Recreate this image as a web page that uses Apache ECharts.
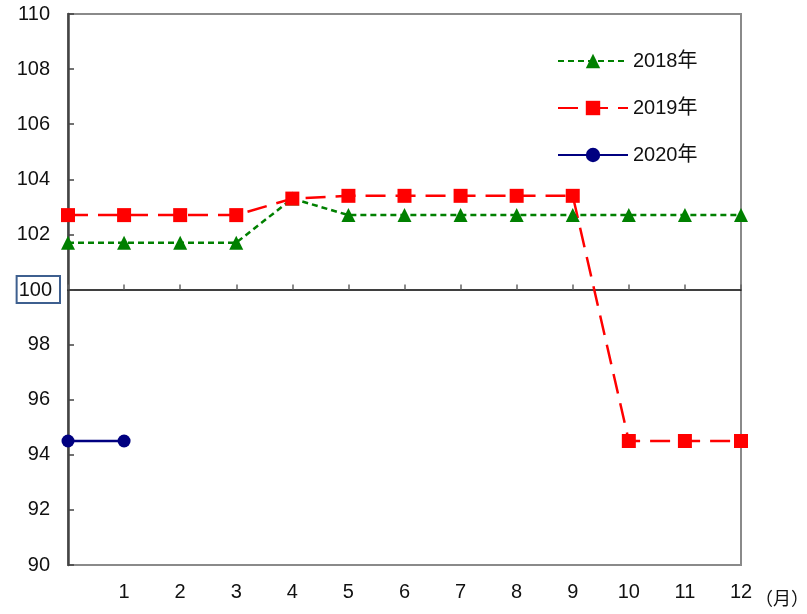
<!DOCTYPE html>
<html><head><meta charset="utf-8">
<script src="https://cdn.jsdelivr.net/npm/echarts@6/dist/echarts.min.js"></script>
<style>html,body{margin:0;padding:0;background:#fff}#c{width:807px;height:614px}</style>
</head><body><div id="c"></div>
<script>
const categories = ['', '1', '2', '3', '4', '5', '6', '7', '8', '9', '10', '11', '12'];
const s2018 = [101.7, 101.7, 101.7, 101.7, 103.3, 102.7, 102.7, 102.7, 102.7, 102.7, 102.7, 102.7, 102.7];
const s2019 = [102.7, 102.7, 102.7, 102.7, 103.3, 103.4, 103.4, 103.4, 103.4, 103.4, 94.5, 94.5, 94.5];
const s2020 = [94.5, 94.5];
const seriesNames = ['2018年', '2019年', '2020年'];
const yMin = 90, yMax = 110, yStep = 2, baseLine = 100;

const FONT = 'Liberation Sans, Noto Sans CJK JP, sans-serif';
const chart = echarts.init(document.getElementById('c'));
chart.setOption({
  animation: false,
  textStyle: { fontFamily: FONT },
  grid: [
    { left: 68, right: 66, top: 14, bottom: 49, show: true, borderColor: '#8a8a8a', borderWidth: 2, containLabel: false },
    { left: 68, right: 66, top: 14, bottom: 324.5, show: false }
  ],
  legend: {
    orient: 'vertical', left: 552, top: 46, itemWidth: 70, itemHeight: 18, itemGap: 27,
    textStyle: { fontSize: 20, color: '#111', fontFamily: FONT },
    data: seriesNames
  },
  xAxis: [
    {
      type: 'category', gridIndex: 0, data: categories, boundaryGap: false,
      axisLine: { show: false }, axisTick: { show: false }, splitLine: { show: false },
      axisLabel: { fontSize: 20, color: '#111', margin: 17, interval: 0 }
    },
    {
      type: 'category', gridIndex: 1, data: categories, boundaryGap: false, position: 'bottom',
      axisLine: { show: true, lineStyle: { color: '#000', width: 1.5 } },
      axisTick: { show: true, inside: true, length: 5, interval: 0, lineStyle: { color: '#666', width: 1.5 } },
      axisLabel: { show: false }, splitLine: { show: false }
    }
  ],
  yAxis: [
    {
      type: 'value', gridIndex: 0, min: yMin, max: yMax, interval: yStep,
      axisLine: { show: true, lineStyle: { color: '#444', width: 2.5 } },
      axisTick: { show: true, inside: true, length: 6, lineStyle: { color: '#444', width: 1.5 } },
      splitLine: { show: false },
      axisLabel: {
        margin: 8,
        formatter: v => v === baseLine ? '{b|' + v + '}' : '{a|' + v + '}',
        rich: {
          a: { fontSize: 20, color: '#111', padding: [0, 10, 0, 0], fontFamily: FONT },
          b: { fontSize: 20, color: '#111', padding: [4, 8, 3, 2], borderColor: '#3e5f8f', borderWidth: 2, fontFamily: FONT }
        }
      }
    },
    { type: 'value', gridIndex: 1, min: baseLine, max: yMax, show: false }
  ],
  graphic: [
    { type: 'text', left: 755, top: 589, style: { text: '（月）', fontSize: 18, fill: '#111', fontFamily: 'Noto Sans CJK JP' } }
  ],
  series: [
    {
      name: seriesNames[0], type: 'line', data: s2018, xAxisIndex: 0, yAxisIndex: 0,
      symbol: 'triangle', symbolSize: 14, itemStyle: { color: '#008000' },
      lineStyle: { color: '#008000', width: 2.5, type: [6, 4] }
    },
    {
      name: seriesNames[1], type: 'line', data: s2019, xAxisIndex: 0, yAxisIndex: 0,
      symbol: 'rect', symbolSize: 14, itemStyle: { color: '#ff0000' },
      lineStyle: { color: '#ff0000', width: 2.5, type: [20, 10] }
    },
    {
      name: seriesNames[2], type: 'line', data: s2020, xAxisIndex: 0, yAxisIndex: 0,
      symbol: 'circle', symbolSize: 13, itemStyle: { color: '#000080' },
      lineStyle: { color: '#000080', width: 2.5, type: 'solid' }
    }
  ]
});
</script></body></html>
